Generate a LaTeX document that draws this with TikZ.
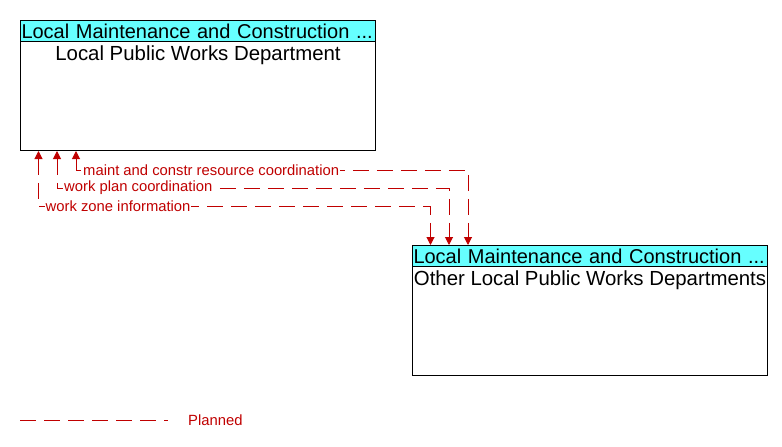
\documentclass[tikz,border=0pt]{standalone}
\usepackage{fontspec}
\setmainfont{Liberation Sans}
\usetikzlibrary{calc}
\usetikzlibrary{arrows.meta}
\definecolor{hdrcyan}{RGB}{102,255,255}
\definecolor{plannedred}{RGB}{192,0,0}
\tikzset{
  every picture/.style={
    x=1pt, y=-1pt,
    >={Triangle[width=8pt, length=8pt]}
  },
  box/.style={
    draw, line width=1pt, minimum width=355pt, minimum height=130pt,
    inner sep=0pt, anchor=north west
  },
  header/.style={
    draw, line width=1pt, fill=hdrcyan, minimum width=355pt, minimum height=21pt,
    inner sep=1pt, anchor=north west, align=left, text width=353pt,
    font=\fontsize{20}{21}\selectfont
  },
  boxtext/.style={
    anchor=north, inner sep=1pt, yshift=-3pt, font=\fontsize{20.4}{22}\selectfont
  },
  flow/.style={
    <->, draw=plannedred, line width=1pt, dash pattern=on 16pt off 8pt
  },
  flowlabel/.style={
    anchor=west, fill=white, inner sep=1pt, text=plannedred,
    font=\fontsize{14.8}{16}\selectfont
  }
}
\begin{document}
\begin{tikzpicture}
  \useasboundingbox (0,0) rectangle (782,447);
  % elements
  \node[box] (lpwd) at (20,20) {};
  \node[header] (lpwdh) at (lpwd.north west) {Local Maintenance and Construction ...};
  \node[boxtext] (lpwdt) at (lpwdh.south) {Local Public Works Department};
  \node[box] (olpwd) at (412,245) {};
  \node[header] (olpwdh) at (olpwd.north west) {Local Maintenance and Construction ...};
  \node[boxtext] (olpwdt) at (olpwdh.south) {Other Local Public Works Departments};
  % flows
  \foreach \dx/\fy/\name/\txt in {56/170/mc/maint and constr resource coordination,
                                  37/188/wp/work plan coordination,
                                  18.5/206/wz/work zone information}{
    \coordinate (\name t) at ($(lpwd.south west)+(\dx,0)$);
    \coordinate (\name h) at ($(olpwd.north west)+(\dx,0)$);
    \coordinate (\name c) at (\name h |- {(0,\fy)});
    \draw[flow] (\name t) |- (\name c) -- (\name h);
    \node[flowlabel] (\name l) at ($(\name t |- \name c)+(6,0)$) {\txt};
  }
  % legend
  \coordinate (lg) at (20,420);
  \node[flowlabel, fill=none] (lgt) at (187,420) {Planned};
  \draw[draw=plannedred, line width=1pt, dash pattern=on 16pt off 8pt] (lg) -- ++(148,0);
\end{tikzpicture}
\end{document}
